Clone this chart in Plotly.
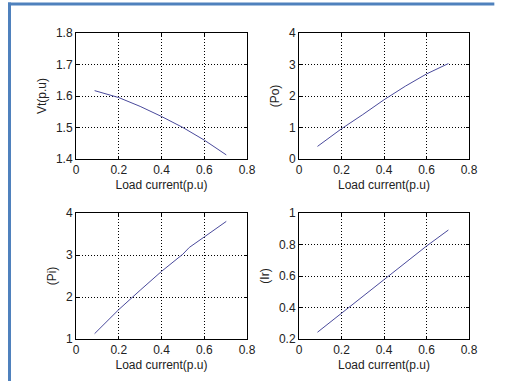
import plotly.graph_objects as go

load_current = [0.087, 0.2, 0.3, 0.4, 0.5, 0.53, 0.6, 0.703]
vt = [1.617, 1.595, 1.567, 1.535, 1.5, 1.488, 1.46, 1.413]
po = [0.40, 0.96, 1.41, 1.88, 2.31, 2.43, 2.70, 3.03]
pi = [1.127, 1.70, 2.16, 2.61, 3.02, 3.18, 3.43, 3.80]
ir = [0.243, 0.363, 0.47, 0.576, 0.68, 0.71, 0.79, 0.892]

x_ticks = [0, 0.2, 0.4, 0.6, 0.8]
x_labels = ["0", "0.2", "0.4", "0.6", "0.8"]
panels = [
    ("Vt(p.u)", vt, [1.4, 1.8], [1.4, 1.5, 1.6, 1.7, 1.8], ["1.4", "1.5", "1.6", "1.7", "1.8"]),
    ("(Po)", po, [0, 4], [0, 1, 2, 3, 4], ["0", "1", "2", "3", "4"]),
    ("(Pi)", pi, [1, 4], [1, 2, 3, 4], ["1", "2", "3", "4"]),
    ("(Ir)", ir, [0.2, 1], [0.2, 0.4, 0.6, 0.8, 1], ["0.2", "0.4", "0.6", "0.8", "1"]),
]

W, H = 507, 381
xdoms = [[76 / W, 247 / W], [299 / W, 469 / W]]
ydoms = [[(H - 159) / H, (H - 33) / H], [(H - 339) / H, (H - 213) / H]]

fig = go.Figure()
font = dict(family="Liberation Sans, Arial, sans-serif", size=12, color="#222222")
layout = dict(
    width=W, height=H, margin=dict(l=0, r=0, t=0, b=0, pad=0), autosize=False,
    paper_bgcolor="white", plot_bgcolor="white", showlegend=False, font=font,
)
for i, (ytitle, yvals, yrange, yt, ytl) in enumerate(panels):
    r, c = divmod(i, 2)
    n = "" if i == 0 else str(i + 1)
    fig.add_trace(go.Scatter(x=load_current, y=yvals, mode="lines",
                             line=dict(color="#4a4a9c", width=1),
                             xaxis="x" + n, yaxis="y" + n))
    common = dict(showline=True, linecolor="black", linewidth=1, mirror="ticks",
                  ticks="inside", ticklen=3, tickcolor="black",
                  showgrid=True, gridcolor="black", griddash="1px,2px", gridwidth=1,
                  zeroline=False, tickfont=font, automargin=False)
    layout["xaxis" + n] = dict(common, domain=xdoms[c], range=[0, 0.8],
                               tickvals=x_ticks, ticktext=x_labels,
                               anchor="y" + n,
                               title=dict(text="Load current(p.u)", standoff=4, font=font))
    layout["yaxis" + n] = dict(common, domain=ydoms[r], range=yrange,
                               tickvals=yt, ticktext=ytl, anchor="x" + n,
                               title=dict(text=ytitle, standoff=6, font=font))

bx, by = 9.5 / W, (H - 4) / H
layout["shapes"] = [
    dict(type="line", xref="paper", yref="paper", x0=bx, x1=bx, y0=0, y1=(H - 2.5) / H,
         line=dict(color="#4f81bd", width=3)),
    dict(type="line", xref="paper", yref="paper", x0=8 / W, x1=0.975, y0=by, y1=by,
         line=dict(color="#4f81bd", width=3)),
]
fig.update_layout(**layout)
fig.write_html("out.html", config={"displayModeBar": False})
